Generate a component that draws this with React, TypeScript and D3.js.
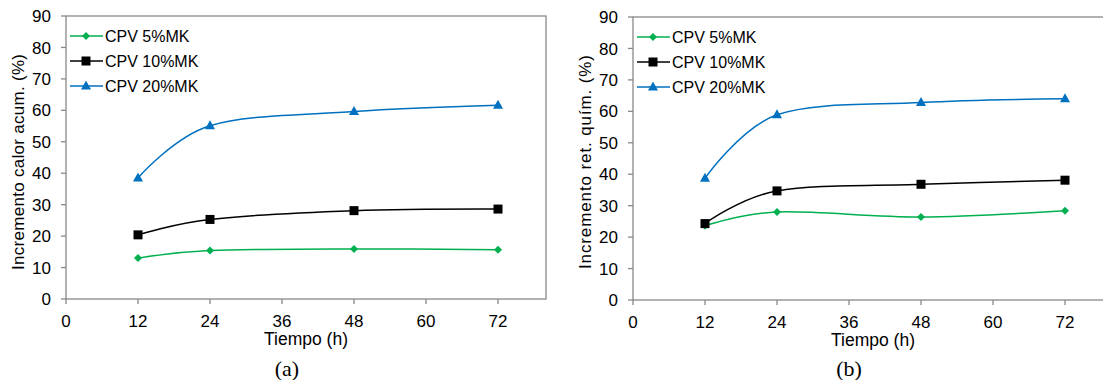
import * as d3 from 'd3';

// hours sampled
const hours = [12, 24, 48, 72];
const xTicks = [0, 12, 24, 36, 48, 60, 72];
const yTicks = [0, 10, 20, 30, 40, 50, 60, 70, 80, 90];
const seriesNames = ['CPV 5%MK', 'CPV 10%MK', 'CPV 20%MK'];

// (a) incremento calor acumulado
const calor5 = [13.0, 15.4, 15.9, 15.7];
const calor10 = [20.4, 25.3, 28.1, 28.6];
const calor20 = [38.5, 55.1, 59.6, 61.6];

// (b) incremento retención química
const quim5 = [23.6, 28.0, 26.4, 28.4];
const quim10 = [24.3, 34.7, 36.8, 38.1];
const quim20 = [38.7, 58.9, 62.8, 64.0];

const colors = ['#00B050', '#000000', '#0070C0'];
const axisGray = '#898989';
const font = 'Liberation Sans, Arial, sans-serif';

function Marker({ kind, x, y, color }: { kind: number; x: number; y: number; color: string }) {
  if (kind === 0) {
    const r = 4;
    return <path d={`M${x},${y - r}L${x + r},${y}L${x},${y + r}L${x - r},${y}Z`} fill={color} />;
  }
  if (kind === 1) {
    return <rect x={x - 4.5} y={y - 4.5} width={9} height={9} fill={color} />;
  }
  return <path d={`M${x},${y - 5.5}L${x + 5},${y + 3.5}L${x - 5},${y + 3.5}Z`} fill={color} />;
}

function Panel({ left, top, bottom, yTitle, titleLen, label, labelX, titleX, data }: any) {
  const x = d3.scaleLinear().domain([0, 80]).range([left, left + 480]);
  const y = d3.scaleLinear().domain([0, 90]).range([bottom, top]);
  const line = d3
    .line<number>()
    .x((_, i) => x(hours[i]))
    .y((d) => y(d))
    .curve(d3.curveCardinal.tension(0));
  const midY = 162;
  return (
    <g fontFamily={font} fill="#000">
      <rect x={left} y={top} width={480} height={bottom - top} fill="none" stroke={axisGray} strokeWidth={1.3} />
      {yTicks.map((t) => (
        <g key={'y' + t}>
          <line x1={left - 5} x2={left} y1={y(t)} y2={y(t)} stroke={axisGray} strokeWidth={1.3} />
          <text x={left - 15} y={y(t)} dy="0.36em" textAnchor="end" fontSize={17}>
            {t}
          </text>
        </g>
      ))}
      {xTicks.map((t) => (
        <g key={'x' + t}>
          <line x1={x(t)} x2={x(t)} y1={bottom} y2={bottom + 5} stroke={axisGray} strokeWidth={1.3} />
          <text x={x(t)} y={bottom + 22} dy="0.36em" textAnchor="middle" fontSize={17}>
            {t}
          </text>
        </g>
      ))}
      <text x={x(40)} y={bottom + 40} dy="0.36em" textAnchor="middle" fontSize={17.5}>
        Tiempo (h)
      </text>
      <text
        transform={`translate(${titleX},${midY}) rotate(-90)`}
        dy="0.36em"
        textAnchor="middle"
        fontSize={17}
        textLength={titleLen}
        lengthAdjust="spacing"
      >
        {yTitle}
      </text>
      <text x={labelX} y={376} textAnchor="middle" fontSize={22} fontFamily="Liberation Serif, Times New Roman, serif">
        {label}
      </text>
      {data.map((s: number[], k: number) => (
        <g key={'s' + k}>
          <path d={line(s) || ''} fill="none" stroke={colors[k]} strokeWidth={1.5} />
          {s.map((v, i) => (
            <Marker key={i} kind={k} x={x(hours[i])} y={y(v)} color={colors[k]} />
          ))}
        </g>
      ))}
      {seriesNames.map((n, k) => {
        const ly = top + 20 + k * 25;
        return (
          <g key={'l' + k}>
            <line x1={left + 4} x2={left + 37} y1={ly} y2={ly} stroke={colors[k]} strokeWidth={1.5} />
            <Marker kind={k} x={left + 20} y={ly} color={colors[k]} />
            <text x={left + 39} y={ly} dy="0.36em" fontSize={16}>
              {n}
            </text>
          </g>
        );
      })}
    </g>
  );
}

export default function App() {
  return (
    <svg width={1103} height={380} style={{ position: 'absolute', left: 0, top: 0, background: '#fff' }}>
      <Panel
        left={66}
        top={16}
        bottom={299}
        yTitle="Incremento calor acum. (%)"
        titleLen={216}
        label="(a)"
        labelX={287}
        titleX={18}
        data={[calor5, calor10, calor20]}
      />
      <Panel
        left={633}
        top={17}
        bottom={300}
        yTitle="Incremento ret. quím. (%)"
        titleLen={214}
        label="(b)"
        labelX={849}
        titleX={585}
        data={[quim5, quim10, quim20]}
      />
    </svg>
  );
}
